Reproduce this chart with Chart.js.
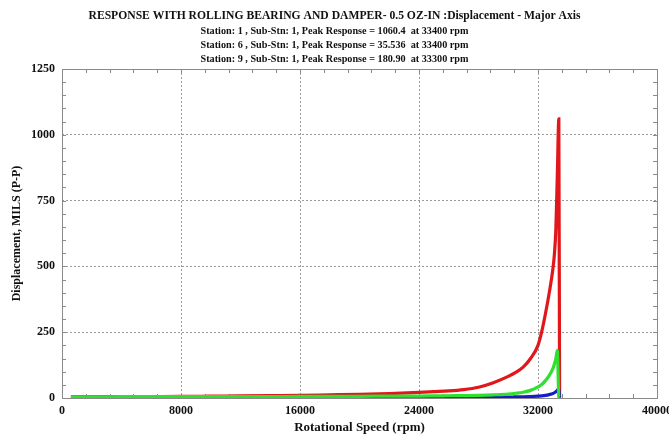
<!DOCTYPE html>
<html>
<head>
<meta charset="utf-8">
<script src="https://cdn.jsdelivr.net/npm/chart.js@4/dist/chart.umd.min.js"></script>
<style>
  html, body { margin: 0; padding: 0; background: #fff; overflow: hidden; }
  #wrap { position: relative; width: 685px; height: 436px; }
</style>
</head>
<body>
<div id="wrap"><canvas id="c"></canvas></div>
<script>
// Rotor response sweep: peak-to-peak displacement (mils) against shaft speed (rpm)
const speedRpm = [600, 2000, 4000, 6000, 8000, 10000, 12000, 14000, 16000, 18000, 20000,
  22000, 24000, 25000, 26000, 27000, 28000, 29000, 30000, 30500, 31000, 31500, 32000,
  32250, 32500, 32750, 33000, 33100, 33200, 33300, 33400, 33450];
const station1 = [4, 4.5, 5, 5.5, 6, 7, 8, 9, 10, 12, 14, 17, 21, 24, 27, 32, 41, 58, 82, 97,
  117, 150, 200, 252, 320, 398, 490, 545, 640, 850, 1060.4, 2];
const station6 = [2, 2, 2, 2, 2, 2, 2, 2, 2, 2, 2, 2, 2.5, 2.5, 2.5, 2.5, 3, 3, 3.5, 4, 4.5,
  5.5, 7, 8, 10, 13, 17, 20, 24, 29, 35.536, 1];
const station9 = [4, 4.5, 5, 5, 5, 5, 5.5, 5.5, 6, 6, 6.5, 7, 7.5, 8, 8.5, 9, 10, 12, 15, 18,
  22, 29, 42, 51, 66, 85, 112, 128, 150, 180.9, 3, 1];

const xTicks = [0, 8000, 16000, 24000, 32000, 40000];
const yTicks = [0, 250, 500, 750, 1000, 1250];

const titleLines = [
  'RESPONSE WITH ROLLING BEARING AND DAMPER- 0.5 OZ-IN :Displacement - Major Axis',
  'Station: 1 , Sub-Stn: 1, Peak Response = 1060.4  at 33400 rpm',
  'Station: 6 , Sub-Stn: 1, Peak Response = 35.536  at 33400 rpm',
  'Station: 9 , Sub-Stn: 1, Peak Response = 180.90  at 33300 rpm'
];

const SERIF = "'Liberation Serif', 'Times New Roman', serif";

function pairs(xs, ys) { return xs.map((x, i) => ({ x: x, y: ys[i] })); }

// Frame around the plot area plus small inward minor ticks on every side
const framePlugin = {
  id: 'frameTicks',
  beforeDatasetsDraw(chart) {
    const { ctx, chartArea: a, scales } = chart;
    ctx.save();
    ctx.strokeStyle = '#8a8a8a';
    ctx.lineWidth = 1;
    ctx.strokeRect(Math.round(a.left) + 0.5, Math.round(a.top) + 0.5,
      Math.round(a.right - a.left), Math.round(a.bottom - a.top));
    ctx.beginPath();
    for (let v = 0; v <= 40000; v += 1600) {
      const px = Math.round(scales.x.getPixelForValue(v)) + 0.5;
      ctx.moveTo(px, a.top); ctx.lineTo(px, a.top + 4);
      ctx.moveTo(px, a.bottom); ctx.lineTo(px, a.bottom - 4);
    }
    for (let v = 0; v <= 1250; v += 50) {
      const py = Math.round(scales.y.getPixelForValue(v)) + 0.5;
      ctx.moveTo(a.left, py); ctx.lineTo(a.left + 4, py);
      ctx.moveTo(a.right, py); ctx.lineTo(a.right - 4, py);
    }
    ctx.stroke();
    ctx.restore();
  }
};

// Heading block: main title and one line per station
const headingPlugin = {
  id: 'heading',
  afterDraw(chart) {
    const ctx = chart.ctx;
    const cx = 334.5;
    ctx.save();
    ctx.fillStyle = '#111';
    ctx.textAlign = 'center';
    ctx.textBaseline = 'middle';
    ctx.font = 'bold 12.5px ' + SERIF;
    ctx.fillText(titleLines[0], cx, 16, 492);
    ctx.font = 'bold 10.5px ' + SERIF;
    ctx.fillText(titleLines[1], cx, 31, 268);
    ctx.fillText(titleLines[2], cx, 45, 268);
    ctx.fillText(titleLines[3], cx, 59, 268);
    ctx.restore();
  }
};

// Dotted grid at the inner major ticks only; the frame covers the edges
const gridColor = (edge) => (c) => (c.tick && (c.tick.value === edge || c.tick.value === 0))
  ? 'rgba(0,0,0,0)' : '#9a9a9a';

new Chart(document.getElementById('c'), {
  type: 'line',
  data: {
    datasets: [
      { label: 'Station 1', data: pairs(speedRpm, station1), borderColor: '#e2171b', order: 2 },
      { label: 'Station 6', data: pairs(speedRpm, station6), borderColor: '#1a1ac8', order: 1 },
      { label: 'Station 9', data: pairs(speedRpm, station9), borderColor: '#2fe02f', order: 0 }
    ]
  },
  options: {
    responsive: true,
    maintainAspectRatio: false,
    animation: false,
    layout: { padding: { top: 69, right: 28, bottom: 0, left: 0 } },
    elements: {
      line: { borderWidth: 3.2, cubicInterpolationMode: 'monotone', fill: false },
      point: { radius: 0 }
    },
    plugins: {
      legend: { display: false },
      tooltip: { enabled: false },
      title: { display: false }
    },
    scales: {
      x: {
        type: 'linear',
        min: 0, max: 40000,
        afterBuildTicks: (s) => { s.ticks = xTicks.map(v => ({ value: v })); },
        afterFit: (s) => { s.height = 38; },
        border: { display: false, dash: [2, 2] },
        grid: { color: gridColor(40000), lineWidth: 1, drawTicks: false },
        ticks: { color: '#111', padding: 6, maxRotation: 0, autoSkip: false,
          font: { family: SERIF, size: 12, weight: 'bold' },
          callback: (v) => String(v) },
        title: { display: true, text: 'Rotational Speed (rpm)', color: '#111',
          padding: { top: 0, bottom: 1 },
          font: { family: SERIF, size: 13, weight: 'bold' } }
      },
      y: {
        min: 0, max: 1250,
        afterBuildTicks: (s) => { s.ticks = yTicks.map(v => ({ value: v })); },
        afterFit: (s) => { s.width = 62; },
        border: { display: false, dash: [2, 2] },
        grid: { color: gridColor(1250), lineWidth: 1, drawTicks: false },
        ticks: { color: '#111', padding: 7,
          font: { family: SERIF, size: 12, weight: 'bold' },
          callback: (v) => String(v) },
        title: { display: true, text: 'Displacement, MILS (P-P)', color: '#111',
          padding: { top: 10, bottom: 0 },
          font: { family: SERIF, size: 12, weight: 'bold' } }
      }
    }
  },
  plugins: [framePlugin, headingPlugin]
});
</script>
</body>
</html>
